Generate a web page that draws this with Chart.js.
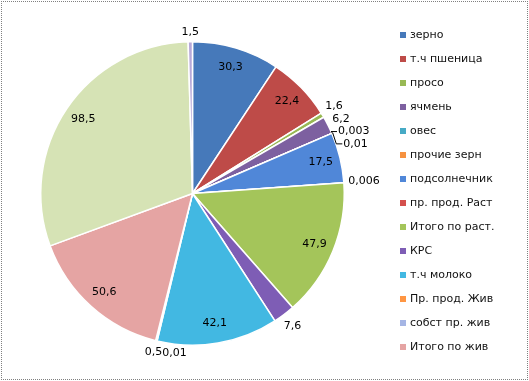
<!DOCTYPE html>
<html><head><meta charset="utf-8">
<script src="https://cdn.jsdelivr.net/npm/chart.js@4.4.0/dist/chart.umd.min.js"></script>
<style>
html,body{margin:0;padding:0;background:#fff;}
#wrap{position:relative;width:529px;height:381px;overflow:hidden;}
#frame{position:absolute;left:1px;top:1px;width:527px;height:379px;border:1px dotted #808080;box-sizing:border-box;pointer-events:none;}
canvas{display:block;}
</style></head><body>
<div id="wrap"><canvas id="c" width="529" height="381"></canvas><div id="frame"></div></div>
<script>
const categories = ["зерно","т.ч пшеница","просо","ячмень","овес","прочие зерн","подсолнечник","пр. прод. Раст","Итого по раст.","КРС","т.ч молоко","Пр. прод. Жив","собст пр. жив","Итого по жив","",""];
const values = [30.3,22.4,1.6,6.2,0.003,0.01,17.5,0.006,47.9,7.6,42.1,0.5,0.01,50.6,98.5,1.5];
const colors = ["#4679BA","#BE4B48","#98B954","#7D60A0","#46AAC5","#F69240","#5087D8","#D4504D","#A4C55A","#7E5DB5","#42B8E2","#FF9643","#A5B5E4","#E5A4A3","#D6E3B5","#B7A9D9"];

const FONT = '11px "DejaVu Sans"';
const fmt = v => String(v).replace('.', ',');

const labelPlugin = {
  id: 'sliceLabels',
  afterDatasetsDraw(chart) {
    const ctx = chart.ctx;
    const meta = chart.getDatasetMeta(0);
    const data = chart.data.datasets[0].data;
    const total = data.reduce((a, b) => a + b, 0);
    ctx.save();
    ctx.font = FONT;
    ctx.fillStyle = '#000';
    ctx.textBaseline = 'middle';
    ctx.textAlign = 'center';
    const placed = [];
    const rectOf = (cx, cy, w, h) => ({l: cx - w / 2, r: cx + w / 2, t: cy - h / 2, b: cy + h / 2});
    const hit = (a, b) => !(a.r <= b.l || b.r <= a.l || a.b <= b.t || b.b <= a.t);
    const items = meta.data.map((arc, i) => {
      const p = arc.getProps(['x', 'y', 'startAngle', 'endAngle', 'outerRadius'], true);
      const mid = (p.startAngle + p.endAngle) / 2;
      const text = fmt(data[i]);
      return {i, p, mid, text, w: ctx.measureText(text).width, h: 12, share: data[i] / total};
    });
    items.filter(o => o.share >= 0.03).forEach(o => {
      const r = o.p.outerRadius * 0.87;
      o.cx = o.p.x + Math.cos(o.mid) * r;
      o.cy = o.p.y + Math.sin(o.mid) * r;
      placed.push(rectOf(o.cx, o.cy, o.w, o.h));
      ctx.fillText(o.text, o.cx, o.cy);
    });
    const rank = o => (o.share < 0.002 ? 0 : o.share);
    const outs = items.filter(o => o.share < 0.03)
      .sort((a, b) => (rank(b) - rank(a)) || (a.i - b.i));
    outs.forEach(o => {
      const c = Math.cos(o.mid), s = Math.sin(o.mid);
      const R = o.p.outerRadius;
      const off = (o.w / 2) * Math.abs(c) + (o.h / 2) * Math.abs(s) + 4;
      const nx = o.p.x + c * (R + off), ny = o.p.y + s * (R + off);
      const tryAt = (t, sg) => {
        let dx = -s * sg, dy = c * sg;
        if (Math.abs(s) > 0.9) { dx = Math.sign(dx); dy = 0; }
        const cx = nx + dx * t, cy = ny + dy * t;
        const rc = rectOf(cx, cy, o.w, o.h);
        const qx = Math.max(rc.l, Math.min(o.p.x, rc.r));
        const qy = Math.max(rc.t, Math.min(o.p.y, rc.b));
        if (Math.hypot(qx - o.p.x, qy - o.p.y) < R - 1) return null;
        if (placed.some(b => hit(b, rc))) return null;
        return {cx, cy, rc, t};
      };
      const firstFree = sg => { for (let t = 0; t < 120; t++) { const r = tryAt(t, sg); if (r) return r; } return null; };
      const ccw = firstFree(-1), cw = firstFree(1);
      let best = null;
      if (ccw && cw) best = (ccw.t <= cw.t + 5) ? ccw : cw;
      else best = ccw || cw || {cx: nx, cy: ny, rc: rectOf(nx, ny, o.w, o.h), t: 0};
      placed.push(best.rc);
      const ex = o.p.x + c * (R + 1), ey = o.p.y + s * (R + 1);
      const rightSide = best.cx > ex;
      const ax = rightSide ? best.rc.l - 1 : best.rc.r + 1;
      if (Math.abs(best.cy - ny) > 6) {
        const bx = rightSide ? ax - 6 : ax + 6;
        ctx.strokeStyle = '#000';
        ctx.lineWidth = 1;
        ctx.beginPath();
        ctx.moveTo(ex, ey);
        ctx.lineTo(bx, best.cy);
        ctx.lineTo(ax, best.cy);
        ctx.stroke();
      }
      ctx.fillText(o.text, best.cx, best.cy);
    });
    ctx.restore();
  }
};

const legendPlugin = {
  id: 'sideLegend',
  afterDraw(chart) {
    const ctx = chart.ctx;
    const ds = chart.data.datasets[0];
    ctx.save();
    ctx.font = FONT;
    ctx.textBaseline = 'middle';
    ctx.textAlign = 'left';
    let k = 0;
    chart.data.labels.forEach((lab, i) => {
      if (!lab) return;
      const y = 35 + k * 24;
      k++;
      if (y > 372) return;
      ctx.fillStyle = ds.backgroundColor[i];
      ctx.fillRect(400, y - 3, 6, 6);
      ctx.fillStyle = '#111';
      ctx.fillText(lab, 410, y);
    });
    ctx.restore();
  }
};

new Chart(document.getElementById('c'), {
  type: 'pie',
  data: {
    labels: categories,
    datasets: [{
      data: values,
      backgroundColor: colors,
      borderColor: '#ffffff',
      borderWidth: 1.5
    }]
  },
  options: {
    responsive: false,
    animation: false,
    devicePixelRatio: 1,
    layout: {padding: {left: 40, right: 184, top: 41, bottom: 35}},
    plugins: {legend: {display: false}, tooltip: {enabled: false}}
  },
  plugins: [labelPlugin, legendPlugin]
});
</script>
</body></html>
